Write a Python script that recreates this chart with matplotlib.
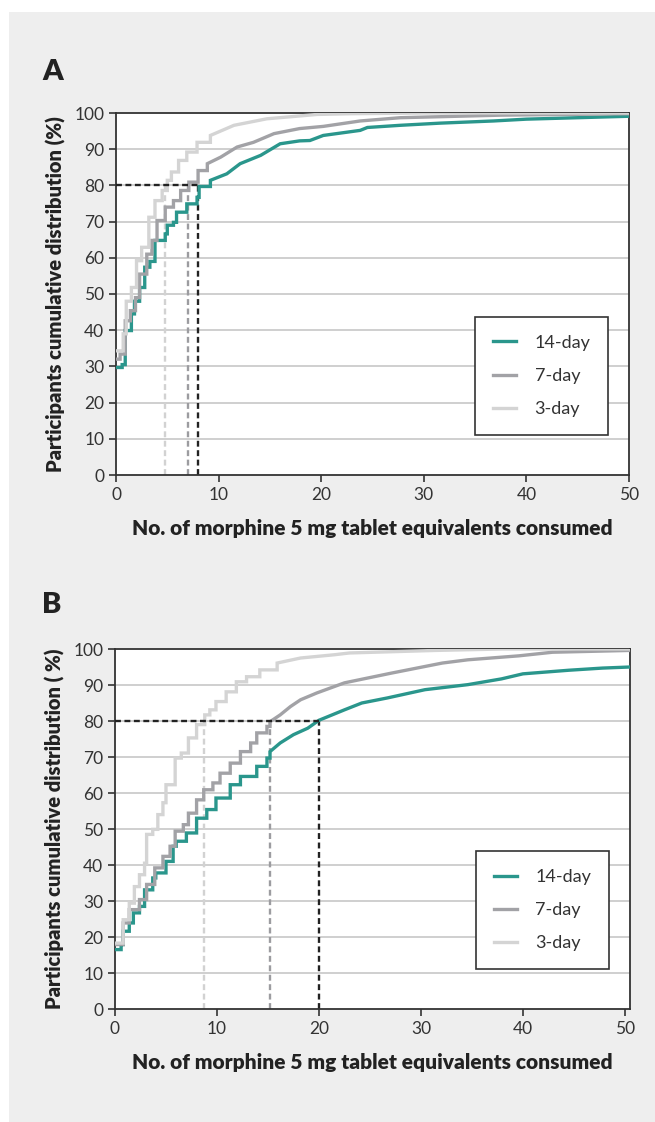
import matplotlib.pyplot as plt
import matplotlib.patches as mpatches

plt.rcParams['font.family'] = ['Lato', 'DejaVu Sans']

# panel A: cumulative distribution (%) vs tablets consumed
a14_x = [0, 0.6, 0.9, 1.5, 1.8, 2.3, 2.8, 3.3, 3.8, 4.8, 5.0, 5.6, 5.9, 6.9, 7.9, 8.1, 9.2, 10.8, 12.1, 14.1, 16.0, 17.9, 18.9, 20.2, 23.8, 24.5, 27.7, 31.6, 36.8, 40.0, 50.0]
a14_y = [29.7, 30.5, 39.9, 44.5, 48.0, 51.8, 57.4, 59.0, 64.8, 66.6, 69.0, 69.8, 72.6, 74.9, 76.7, 79.7, 81.4, 83.2, 86.0, 88.3, 91.5, 92.3, 92.4, 93.8, 95.2, 96.0, 96.6, 97.2, 97.8, 98.3, 99.1]

a7_x = [0, 0.4, 0.9, 1.4, 1.9, 2.3, 3.0, 3.5, 4.0, 4.8, 5.6, 6.3, 7.1, 8.0, 8.9, 10.2, 11.8, 13.4, 15.4, 17.9, 20.2, 23.8, 27.7, 37.5, 50.0]
a7_y = [32.0, 33.4, 42.6, 45.4, 49.0, 55.5, 61.0, 64.8, 70.3, 74.0, 75.8, 78.6, 80.9, 84.1, 86.0, 87.8, 90.6, 91.9, 94.3, 95.7, 96.3, 97.8, 98.7, 99.4, 99.8]

a3_x = [0, 0.7, 1.0, 1.5, 2.0, 2.5, 3.2, 3.8, 4.5, 5.0, 5.4, 6.1, 6.9, 7.9, 9.2, 11.5, 14.7, 19.6, 22.9, 30.0, 50.0]
a3_y = [34.3, 39.0, 48.0, 51.8, 59.2, 62.9, 71.2, 75.8, 78.6, 81.4, 83.7, 86.9, 89.2, 91.9, 93.8, 96.6, 98.4, 99.6, 99.8, 100.0, 100.0]

# panel B
b14_x = [0, 0.6, 0.8, 1.4, 1.8, 2.4, 2.9, 3.7, 4.0, 5.0, 5.7, 6.0, 7.0, 8.0, 9.0, 9.9, 11.3, 12.3, 13.9, 14.9, 15.2, 16.2, 17.5, 18.9, 20.0, 22.5, 24.2, 26.7, 30.4, 34.6, 37.9, 40.0, 44.5, 47.8, 50.5]
b14_y = [16.5, 17.9, 21.6, 23.9, 26.7, 28.5, 33.1, 36.4, 37.8, 41.0, 45.2, 46.6, 48.9, 53.0, 55.4, 58.6, 62.3, 64.6, 67.4, 69.7, 71.5, 73.9, 76.2, 78.0, 80.2, 83.1, 85.0, 86.4, 88.7, 90.1, 91.7, 93.1, 94.1, 94.7, 95.0]

b7_x = [0, 0.8, 1.4, 2.4, 3.1, 3.9, 4.7, 5.4, 5.9, 6.7, 7.2, 8.0, 8.7, 9.6, 10.3, 11.3, 12.3, 13.3, 13.9, 14.9, 15.2, 16.2, 17.2, 18.2, 19.8, 22.5, 27.1, 32.1, 34.6, 39.6, 42.9, 50.5]
b7_y = [17.9, 23.9, 27.6, 30.4, 34.6, 39.2, 42.4, 45.2, 49.4, 51.2, 54.4, 58.1, 60.9, 62.8, 65.5, 68.3, 71.5, 73.9, 76.7, 78.5, 79.8, 81.7, 84.0, 85.9, 87.8, 90.6, 93.3, 96.1, 97.0, 98.1, 99.1, 99.6]

b3_x = [0, 0.8, 1.4, 1.9, 2.4, 2.9, 3.1, 3.7, 4.2, 4.7, 5.0, 5.9, 6.5, 7.2, 8.0, 8.8, 9.3, 9.9, 10.9, 11.9, 12.9, 14.2, 15.9, 18.2, 21.5, 23.0, 31.4, 38.0, 50.5]
b3_y = [18.3, 24.8, 29.4, 34.0, 37.3, 40.5, 48.5, 49.9, 54.0, 57.3, 62.3, 69.7, 71.1, 75.3, 79.0, 81.7, 83.1, 85.4, 88.1, 90.9, 92.3, 94.2, 96.1, 97.5, 98.4, 98.9, 99.6, 100.0, 100.0]

# 80th percentile points
a_p80 = [8.0, 7.0, 4.8]
b_p80 = [20.0, 15.2, 8.75]

labels = ['14-day', '7-day', '3-day']
colors = ['#2a968c', '#a2a2a6', '#d4d4d4']
dash_colors = ['#222222', '#9c9ca0', '#d2d2d2']


def stepped(x, y, cut):
    # steps while the curve is steep, straight segments in the flat tail
    px, py = [x[0]], [y[0]]
    for i in range(1, len(x)):
        if x[i] <= cut:
            px.append(x[i])
            py.append(py[-1])
        px.append(x[i])
        py.append(y[i])
    return px, py


fig = plt.figure(figsize=(6.55, 11.22), dpi=100)
fig.patch.set_facecolor('white')
fig.patches.append(mpatches.Rectangle((9 / 655, 0), 1, 1 - 12 / 1122, transform=fig.transFigure,
                                      facecolor='#eeeeee', edgecolor='none', zorder=-10))


def panel(ax, series, p80, xmax, ylab, cut):
    ax.set_facecolor('white')
    for y in range(10, 100, 10):
        ax.axhline(y, color='#cccccc', lw=1.3, zorder=1)
    for (x, y), lab, c in zip(series, labels, colors):
        sx, sy = stepped(x, y, cut)
        ax.plot(sx, sy, color=c, lw=2.4, label=lab, zorder=3, solid_joinstyle='miter')
    # 80% reference lines
    ax.plot([0, p80[0]], [80, 80], ls=(0, (2.5, 1.5)), color='#222222', lw=1.7, zorder=4)
    for v, c in zip(p80[::-1], dash_colors[::-1]):
        ax.plot([v, v], [0, 80], ls=(0, (2.5, 1.5)), color=c, lw=1.7, zorder=2)
    ax.set_xlim(0, xmax)
    ax.set_ylim(0, 100)
    ax.set_xticks(range(0, 51, 10))
    ax.set_yticks(range(0, 101, 10))
    for s in ax.spines.values():
        s.set_color('#333333')
        s.set_linewidth(1.3)
    ax.tick_params(direction='out', length=5, width=1.2, color='#333333', labelsize=12.5,
                   labelcolor='#333333')
    ax.set_xlabel('No. of morphine 5 mg tablet equivalents consumed', fontsize=15,
                  fontweight='heavy', color='#222222', labelpad=12)
    ax.set_ylabel(ylab, fontsize=14.5, fontweight='heavy', color='#222222', labelpad=6)
    leg = ax.legend(loc='lower right', bbox_to_anchor=(0.96, 0.11), frameon=True, fancybox=False,
                    fontsize=13, handlelength=1.3, borderpad=1.0, labelspacing=0.95,
                    handletextpad=1.0, borderaxespad=0)
    leg.get_frame().set_edgecolor('#333333')
    leg.get_frame().set_linewidth(1.2)
    leg.get_frame().set_alpha(1)
    for t in leg.get_texts():
        t.set_color('#333333')


axA = fig.add_axes([116 / 655, 1 - 475 / 1122, 513 / 655, 362 / 1122])
panel(axA, [(a14_x, a14_y), (a7_x, a7_y), (a3_x, a3_y)], a_p80, 50,
      'Participants cumulative distribution (%)', 10)
axB = fig.add_axes([115 / 655, 1 - 1009 / 1122, 515 / 655, 360 / 1122])
panel(axB, [(b14_x, b14_y), (b7_x, b7_y), (b3_x, b3_y)], b_p80, 50.5,
      'Participants cumulative distribution ( %)', 16)

fig.text(53 / 655, 1 - 72 / 1122, 'A', fontsize=21, fontweight='heavy', color='#222222',
         ha='center', va='center')
fig.text(52 / 655, 1 - 605 / 1122, 'B', fontsize=21, fontweight='heavy', color='#222222',
         ha='center', va='center')

fig.savefig('out.png', dpi=100, facecolor=fig.get_facecolor())
